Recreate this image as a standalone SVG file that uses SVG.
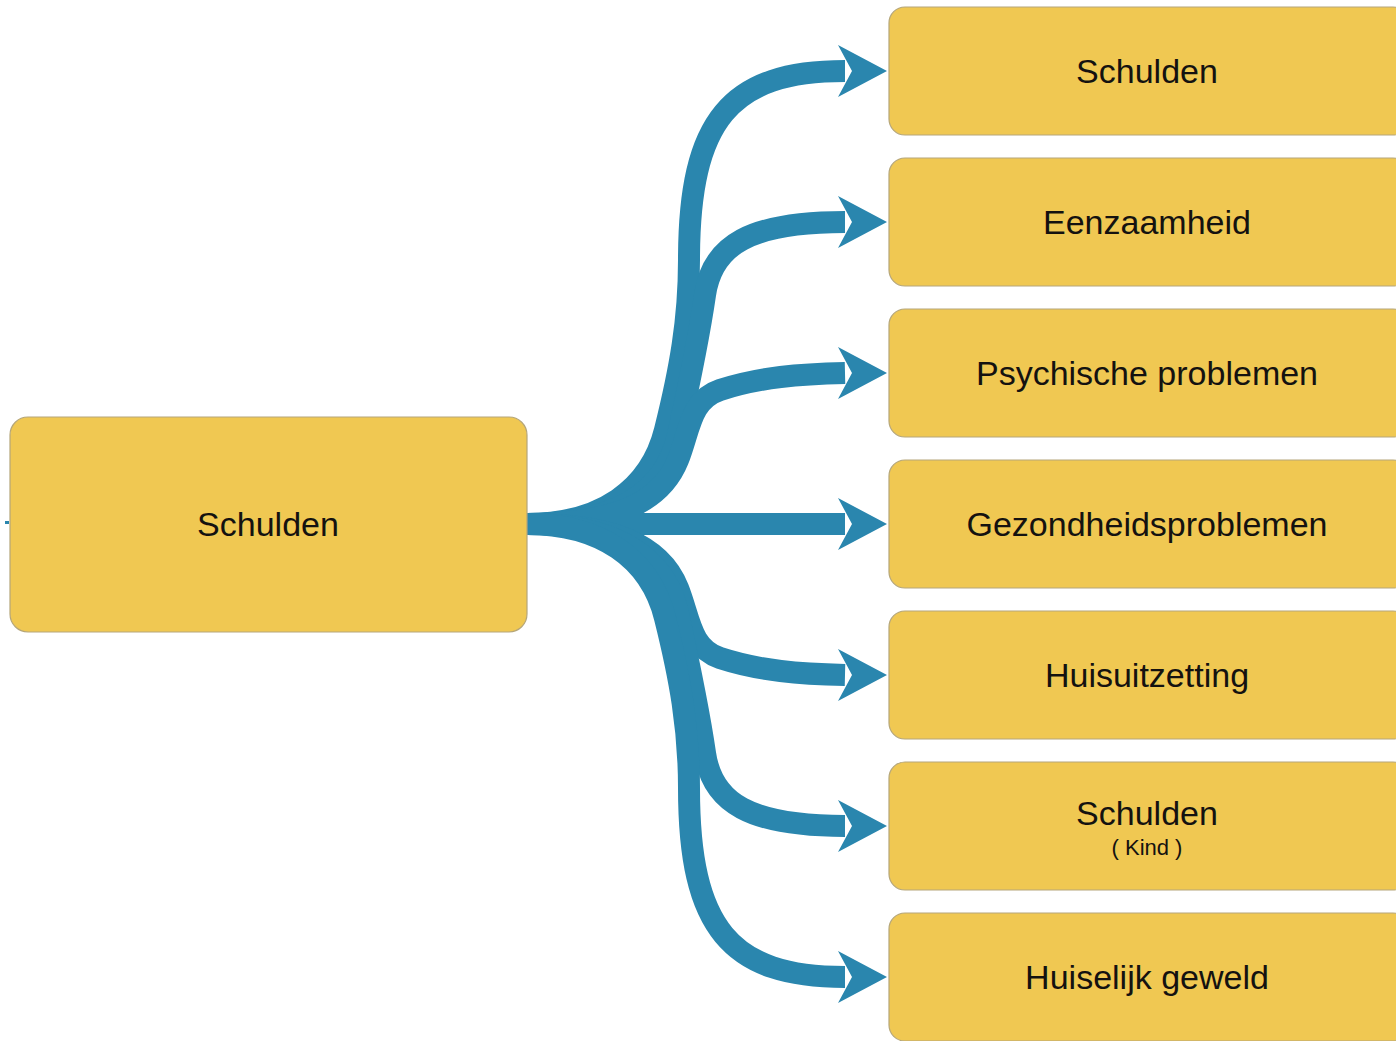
<svg xmlns="http://www.w3.org/2000/svg" width="1396" height="1041" viewBox="0 0 1396 1041">
<style>
.box{fill:#F0C852;stroke:#B5A67A;stroke-width:1.2}
.t{font-family:"Liberation Sans",Arial,sans-serif;font-size:34px;fill:#141210;text-anchor:middle}
.s{font-family:"Liberation Sans",Arial,sans-serif;font-size:22px;fill:#141210;text-anchor:middle}
.br{fill:none;stroke:#2A86AE;stroke-width:22}
.hd{fill:#2A86AE}
</style>
<rect width="1396" height="1041" fill="#ffffff"/>
<g id="connectors">
<rect x="5" y="521" width="4" height="3" class="hd"/>
<path class="br" d="M 527 524 C 600 524, 650 490, 665 430 C 680 370, 689 320, 689 260 C 689 120, 730 71, 845 71"/>
<path class="br" d="M 527 524 C 610 524, 665 495, 678 435 C 690 380, 700 330, 705 295 C 712 245, 750 222, 845 222"/>
<path class="br" d="M 527 524 C 610 524, 660 505, 678 460 C 690 430, 690 400, 720 390 C 760 377, 800 374, 845 373"/>
<path class="br" d="M 527 524 L 845 524"/>
<path class="br" d="M 527 524 C 610 524, 660 543, 678 588 C 690 618, 690 648, 720 658 C 760 671, 800 674, 845 675"/>
<path class="br" d="M 527 524 C 610 524, 665 553, 678 613 C 690 668, 700 718, 705 753 C 712 803, 750 826, 845 826"/>
<path class="br" d="M 527 524 C 600 524, 650 558, 665 618 C 680 678, 689 728, 689 788 C 689 928, 730 977, 845 977"/>
<polygon class="hd" points="887,71 838,45 852,71 838,97"/>
<polygon class="hd" points="887,222 838,196 852,222 838,248"/>
<polygon class="hd" points="887,373 838,347 852,373 838,399"/>
<polygon class="hd" points="887,524 838,498 852,524 838,550"/>
<polygon class="hd" points="887,675 838,649 852,675 838,701"/>
<polygon class="hd" points="887,826 838,800 852,826 838,852"/>
<polygon class="hd" points="887,977 838,951 852,977 838,1003"/>
</g>
<g id="root">
<rect class="box" x="10" y="417" width="517" height="215" rx="18"/>
<text class="t" x="268" y="536">Schulden</text>
</g>
<g id="n1">
<rect class="box" x="889" y="7" width="520" height="128" rx="16"/>
<text class="t" x="1147" y="83">Schulden</text>
</g>
<g id="n2">
<rect class="box" x="889" y="158" width="520" height="128" rx="16"/>
<text class="t" x="1147" y="234">Eenzaamheid</text>
</g>
<g id="n3">
<rect class="box" x="889" y="309" width="520" height="128" rx="16"/>
<text class="t" x="1147" y="385">Psychische problemen</text>
</g>
<g id="n4">
<rect class="box" x="889" y="460" width="520" height="128" rx="16"/>
<text class="t" x="1147" y="536">Gezondheidsproblemen</text>
</g>
<g id="n5">
<rect class="box" x="889" y="611" width="520" height="128" rx="16"/>
<text class="t" x="1147" y="687">Huisuitzetting</text>
</g>
<g id="n6">
<rect class="box" x="889" y="762" width="520" height="128" rx="16"/>
<text class="t" x="1147" y="825">Schulden</text>
<text class="s" x="1147" y="855">( Kind )</text>
</g>
<g id="n7">
<rect class="box" x="889" y="913" width="520" height="128" rx="16"/>
<text class="t" x="1147" y="989">Huiselijk geweld</text>
</g>
</svg>
